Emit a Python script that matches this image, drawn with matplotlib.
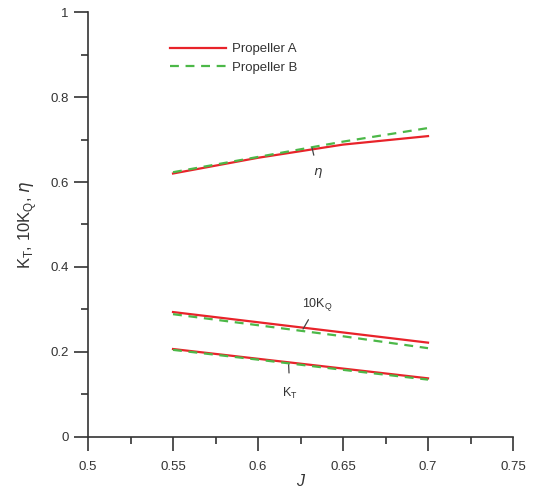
import matplotlib
matplotlib.use("Agg")
import matplotlib.pyplot as plt
import numpy as np
from matplotlib.ticker import MultipleLocator

plt.rcParams['font.family'] = ['Liberation Sans', 'DejaVu Sans']

J = [0.55, 0.6, 0.65, 0.7]
eta_A = [0.620, 0.657, 0.688, 0.708]
eta_B = [0.623, 0.659, 0.695, 0.727]
kq_A = [0.294, 0.270, 0.246, 0.222]
kq_B = [0.289, 0.263, 0.237, 0.209]
kt_A = [0.207, 0.184, 0.161, 0.138]
kt_B = [0.205, 0.182, 0.158, 0.135]

red = '#e8232a'
green = '#4cb848'

fig = plt.figure(figsize=(5.39, 4.92), dpi=100)
ax = fig.add_axes([0.1633, 0.1118, 0.7885, 0.8638])

ax.plot(J, eta_A, color=red, lw=1.6, label='Propeller A')
ax.plot(J, eta_B, color=green, lw=1.6, ls=(0, (4, 3)), label='Propeller B')
ax.plot(J, kq_A, color=red, lw=1.6)
ax.plot(J, kq_B, color=green, lw=1.6, ls=(0, (4, 3)))
ax.plot(J, kt_A, color=red, lw=1.6)
ax.plot(J, kt_B, color=green, lw=1.6, ls=(0, (4, 3)))

ax.set_xlim(0.5, 0.75)
ax.set_ylim(0, 1)
ax.xaxis.set_minor_locator(MultipleLocator(0.025))
ax.yaxis.set_minor_locator(MultipleLocator(0.1))
ax.set_xticks([0.5, 0.55, 0.6, 0.65, 0.7, 0.75])
ax.set_xticklabels(['0.5', '0.55', '0.6', '0.65', '0.7', '0.75'])
ax.set_yticks([0, 0.2, 0.4, 0.6, 0.8, 1.0])
ax.set_yticklabels(['0', '0.2', '0.4', '0.6', '0.8', '1'])

for s in ['top', 'right']:
    ax.spines[s].set_visible(False)
for s in ['left', 'bottom']:
    ax.spines[s].set_color('#333333')
    ax.spines[s].set_linewidth(1.2)
ax.tick_params(which='major', direction='out', length=10, width=1.2, color='#333333',
               labelsize=9.5, labelcolor='#333333')
ax.tick_params(axis='y', which='major', pad=4)
ax.tick_params(axis='x', which='major', pad=7)
ax.tick_params(which='minor', direction='out', length=5, width=1.2, color='#333333')

ax.set_xlabel('J', fontsize=11.5, color='#333333', style='italic')
ax.xaxis.set_label_coords(0.5, -0.088)
ax.set_ylabel(r'K$_\mathregular{T}$, 10K$_\mathregular{Q}$, $\eta$', fontsize=12,
              color='#333333', labelpad=8)

gray = '#444444'
ax.annotate(r'10K$_\mathregular{Q}$', xy=(0.6265, 0.254), xytext=(0.6347, 0.311),
            ha='center', va='center', fontsize=9, color='#333333',
            arrowprops=dict(arrowstyle='-', color=gray, lw=0.9, shrinkA=3, shrinkB=0))
ax.annotate(r'K$_\mathregular{T}$', xy=(0.618, 0.170), xytext=(0.6188, 0.1035),
            ha='center', va='center', fontsize=9, color='#333333',
            arrowprops=dict(arrowstyle='-', color=gray, lw=0.9, shrinkA=7, shrinkB=0))
ax.annotate(r'$\eta$', xy=(0.6318, 0.680), xytext=(0.6353, 0.621),
            ha='center', va='center', fontsize=9.5, color='#333333',
            arrowprops=dict(arrowstyle='-', color=gray, lw=0.9, shrinkA=6, shrinkB=0))

leg = ax.legend(loc='upper left', bbox_to_anchor=(0.166, 0.955), frameon=False,
                fontsize=9.5, handlelength=4.2, handletextpad=0.5, labelspacing=0.5,
                labelcolor='#333333')

fig.savefig('out.png', dpi=100)
